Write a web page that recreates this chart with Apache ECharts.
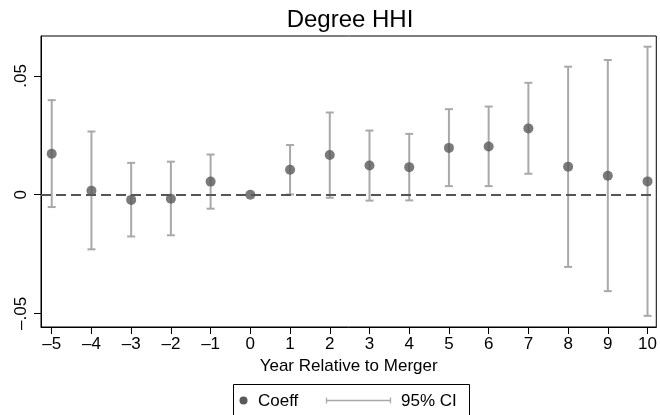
<!DOCTYPE html>
<html>
<head>
<meta charset="utf-8">
<style>
  html, body { margin: 0; padding: 0; background: #ffffff; }
  #chart { width: 660px; height: 415px; }
</style>
<script src="https://cdn.jsdelivr.net/npm/echarts@6/dist/echarts.min.js"></script>
</head>
<body>
<div id="chart"></div>
<script>
// Event-study estimates: years relative to merger, point estimates and 95% CI bounds
const years = [-5, -4, -3, -2, -1, 0, 1, 2, 3, 4, 5, 6, 7, 8, 9, 10];
const coeff = [0.0172, 0.0017, -0.0022, -0.0017, 0.0055, 0.0, 0.0105, 0.0167, 0.0123, 0.0116, 0.0197, 0.0203, 0.0279, 0.0118, 0.0080, 0.0056];
const ciLow = [-0.0052, -0.0230, -0.0176, -0.0171, -0.0059, 0.0, 0.0001, -0.0013, -0.0025, -0.0024, 0.0036, 0.0036, 0.0088, -0.0304, -0.0406, -0.0510];
const ciHigh = [0.0398, 0.0266, 0.0134, 0.0139, 0.0169, 0.0, 0.0209, 0.0346, 0.0270, 0.0256, 0.0360, 0.0371, 0.0471, 0.0539, 0.0567, 0.0623];
const yTicks = [-0.05, 0, 0.05];
const yTickLabels = ['\u2013.05', '0', '.05'];

const FONT = '"Liberation Sans", Arial, Helvetica, sans-serif';
const DOT = '#595959';
const CI = '#a9a9a9';

const chart = echarts.init(document.getElementById('chart'), null, { renderer: 'canvas' });

const pointData = years.map((y, i) => [y, coeff[i]]);
const ciData = years.map((y, i) => [y, ciLow[i], ciHigh[i]]);

// Vertical interval with short caps at both ends
function renderCI(params, api) {
  const x = api.value(0);
  const lo = api.value(1);
  const hi = api.value(2);
  if (lo === hi) return null;
  const pLo = api.coord([x, lo]);
  const pHi = api.coord([x, hi]);
  const cap = 4;
  const style = { stroke: CI, lineWidth: 2, fill: null };
  return {
    type: 'group',
    children: [
      { type: 'line', shape: { x1: pLo[0], y1: pLo[1], x2: pHi[0], y2: pHi[1] }, style },
      { type: 'line', shape: { x1: pHi[0] - cap, y1: pHi[1], x2: pHi[0] + cap, y2: pHi[1] }, style },
      { type: 'line', shape: { x1: pLo[0] - cap, y1: pLo[1], x2: pLo[0] + cap, y2: pLo[1] }, style }
    ]
  };
}

const option = {
  animation: false,
  backgroundColor: '#ffffff',
  title: {
    text: 'Degree HHI',
    left: 345,
    top: 3,
    textAlign: 'center',
    textStyle: { fontFamily: FONT, fontSize: 24, fontWeight: 'normal', color: '#000' }
  },
  grid: {
    left: 41, right: 3, top: 36, bottom: 88,
    show: true, borderColor: '#000', borderWidth: 1, backgroundColor: '#fff'
  },
  xAxis: {
    type: 'value',
    min: -5.27,
    max: 10.22,
    name: 'Year Relative to Merger',
    nameLocation: 'middle',
    nameGap: 30,
    nameTextStyle: { fontFamily: FONT, fontSize: 17, color: '#000' },
    splitLine: { show: false },
    axisLine: { show: true, onZero: false, lineStyle: { color: '#000', width: 1 } },
    axisTick: { show: true, length: 7, lineStyle: { color: '#000', width: 1 }, customValues: years },
    axisLabel: {
      customValues: years,
      margin: 9,
      fontFamily: FONT, fontSize: 17, color: '#000',
      formatter: v => (v < 0 ? '\u2013' + Math.abs(v) : String(v))
    }
  },
  yAxis: {
    type: 'value',
    min: -0.0557,
    max: 0.0668,
    splitLine: { show: false },
    axisLine: { show: true, onZero: false, lineStyle: { color: '#000', width: 1 } },
    axisTick: { show: true, length: 7, lineStyle: { color: '#000', width: 1 }, customValues: yTicks },
    axisLabel: {
      customValues: yTicks,
      rotate: 90,
      margin: 11,
      fontFamily: FONT, fontSize: 17, color: '#000',
      formatter: v => {
        const i = yTicks.findIndex(t => Math.abs(t - v) < 1e-9);
        return i >= 0 ? yTickLabels[i] : '';
      }
    }
  },
  series: [
    {
      name: '95% CI',
      type: 'custom',
      renderItem: renderCI,
      data: ciData,
      encode: { x: 0, y: [1, 2] },
      z: 2,
      silent: true
    },
    {
      name: 'Coeff',
      type: 'scatter',
      data: pointData,
      symbol: 'circle',
      symbolSize: 10,
      itemStyle: { color: DOT },
      z: 4,
      markLine: {
        silent: true,
        symbol: ['none', 'none'],
        label: { show: false },
        lineStyle: { color: '#555555', width: 2, type: [10, 5] },
        data: [{ yAxis: 0 }],
        z: 3
      }
    }
  ],
  graphic: [
    // legend frame and keys
    { type: 'rect', shape: { x: 233.5, y: 384.5, width: 236, height: 40 }, style: { fill: '#fff', stroke: '#000', lineWidth: 1 }, z: 10 },
    { type: 'circle', shape: { cx: 243.5, cy: 400.5, r: 4 }, style: { fill: DOT }, z: 11 },
    { type: 'text', x: 258, y: 401, style: { text: 'Coeff', fontFamily: FONT, fontSize: 17, fill: '#000', verticalAlign: 'middle' }, z: 11 },
    { type: 'line', shape: { x1: 326, y1: 400.5, x2: 391, y2: 400.5 }, style: { stroke: CI, lineWidth: 1.3 }, z: 11 },
    { type: 'line', shape: { x1: 326.5, y1: 397.5, x2: 326.5, y2: 403.5 }, style: { stroke: CI, lineWidth: 1.3 }, z: 11 },
    { type: 'line', shape: { x1: 390.5, y1: 397.5, x2: 390.5, y2: 403.5 }, style: { stroke: CI, lineWidth: 1.3 }, z: 11 },
    { type: 'text', x: 401, y: 401, style: { text: '95% CI', fontFamily: FONT, fontSize: 17, fill: '#000', verticalAlign: 'middle' }, z: 11 }
  ]
};

chart.setOption(option);
</script>
</body>
</html>
